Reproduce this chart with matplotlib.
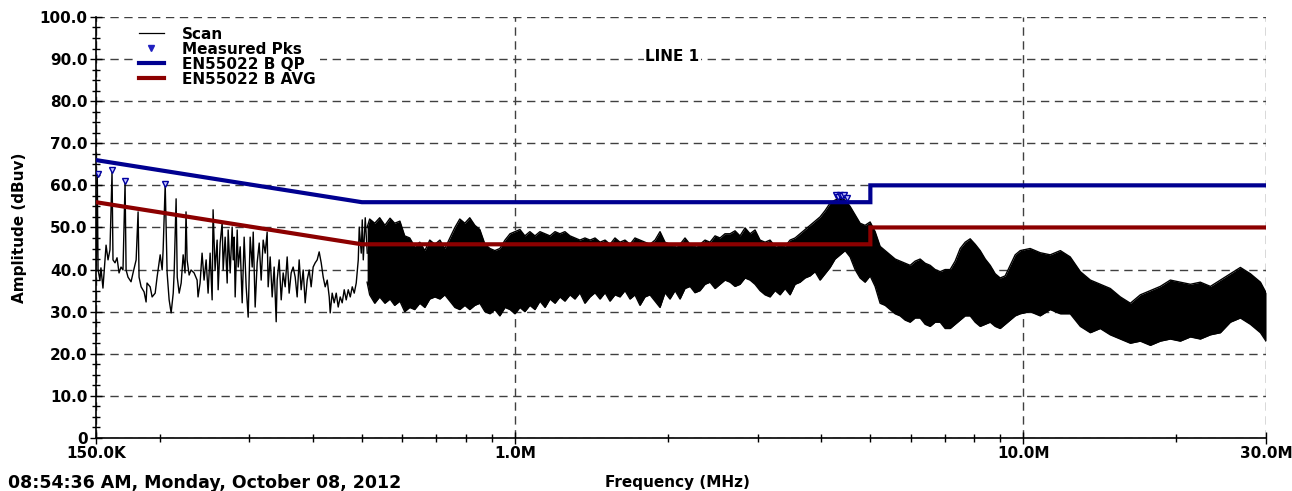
import matplotlib
matplotlib.use('Agg')
import matplotlib.pyplot as plt
from matplotlib.lines import Line2D
from matplotlib.ticker import FixedLocator, MultipleLocator, NullFormatter

plt.rcParams['font.family'] = ['DejaVu Sans']
plt.rcParams['font.weight'] = 'bold'
plt.rcParams['font.size'] = 11

# low band scan, 150 - 512 kHz (kHz, dBuV)
low_scan = [
    (150.2, 41.0), (150.9, 62.0), (151.4, 40.0), (152.7, 37.5), (153.4, 40.4), (154.8, 35.6),
    (157.0, 45.8), (158.4, 42.3), (159.8, 44.7), (161.3, 63.2), (162.0, 42.3), (163.5, 41.6),
    (165.0, 42.8), (166.5, 39.2), (168.0, 40.6), (169.5, 39.9), (171.1, 60.6), (171.9, 39.9),
    (173.4, 38.2), (175.8, 37.1), (177.4, 39.2), (179.9, 42.3), (181.5, 53.7), (182.3, 38.2),
    (184.0, 35.9), (186.5, 34.7), (188.2, 32.3), (189.0, 36.8), (191.7, 35.9), (193.4, 33.5),
    (196.1, 34.4), (197.8, 38.2), (200.6, 43.5), (202.4, 39.9), (203.3, 44.7), (205.2, 60.3),
    (207.0, 39.2), (208.9, 32.8), (210.8, 29.7), (212.8, 34.4), (213.7, 39.2), (215.6, 56.8),
    (216.7, 38.2), (218.6, 34.4), (220.6, 36.8), (222.6, 43.5), (224.5, 39.2), (225.5, 53.7),
    (226.6, 42.3), (228.7, 38.7), (230.7, 39.9), (233.9, 39.2), (237.1, 37.5), (238.1, 33.5),
    (240.3, 36.8), (242.5, 43.9), (244.7, 37.5), (247.0, 42.3), (249.2, 34.4), (251.5, 43.9),
    (253.8, 32.8), (254.9, 54.2), (257.2, 39.9), (259.6, 47.0), (260.8, 35.2), (263.2, 46.3),
    (265.6, 51.1), (266.8, 39.9), (269.2, 47.7), (271.7, 36.8), (272.9, 49.4), (275.4, 39.2),
    (277.9, 50.1), (279.2, 42.3), (280.5, 47.7), (281.7, 33.5), (284.3, 49.4), (285.6, 40.6),
    (288.2, 45.4), (290.8, 32.1), (293.4, 47.7), (296.1, 35.9), (298.8, 28.7), (301.5, 47.7),
    (304.3, 40.6), (305.7, 48.9), (308.4, 31.1), (311.2, 41.6), (314.1, 46.3), (316.9, 37.5),
    (319.8, 47.0), (322.7, 43.9), (325.6, 48.9), (327.1, 35.9), (330.1, 43.0), (333.1, 33.5),
    (336.1, 40.6), (339.2, 27.6), (340.7, 37.5), (343.8, 42.3), (347.0, 32.8), (350.1, 39.2),
    (353.3, 35.9), (356.5, 43.0), (359.7, 34.4), (363.0, 39.2), (366.3, 40.6), (369.7, 38.2),
    (373.0, 33.5), (376.4, 42.3), (379.8, 35.2), (383.3, 39.9), (386.8, 32.1), (390.3, 37.5),
    (393.9, 39.9), (397.4, 35.9), (401.0, 40.6), (404.7, 41.6), (408.4, 42.3), (412.1, 44.2),
    (415.9, 41.6), (419.7, 38.2), (423.5, 35.9), (427.4, 37.5), (431.3, 33.5), (433.2, 29.7),
    (437.1, 34.4), (441.1, 32.1), (445.2, 34.4), (449.2, 31.1), (453.3, 33.5), (457.4, 32.1),
    (461.6, 35.2), (465.8, 32.8), (470.1, 35.2), (474.4, 33.5), (478.7, 35.9), (483.0, 34.4),
    (487.4, 36.8), (491.9, 42.3), (494.1, 50.1), (498.6, 43.9), (500.9, 51.8), (503.2, 42.3),
    (507.7, 52.3), (512.3, 43.9),
]

# dense part of the scan, 0.5 - 30 MHz: (MHz, top of trace, bottom of trace)
band = [
    (0.512, 50.0, 37.0), (0.518, 52.0, 34.0), (0.530, 51.0, 32.0), (0.542, 52.3, 33.5),
    (0.555, 50.5, 32.0), (0.568, 52.2, 33.0), (0.580, 51.0, 31.5), (0.594, 51.5, 32.5),
    (0.607, 48.0, 30.0), (0.621, 47.5, 31.0), (0.635, 45.5, 30.5), (0.650, 46.5, 32.0),
    (0.665, 44.5, 31.0), (0.680, 47.0, 33.0), (0.696, 46.0, 33.5), (0.712, 47.0, 33.0),
    (0.728, 45.0, 34.0), (0.745, 47.5, 32.5), (0.762, 50.0, 31.0), (0.779, 52.0, 30.5),
    (0.797, 51.0, 31.5), (0.815, 52.3, 30.5), (0.834, 50.5, 31.5), (0.853, 49.5, 32.0),
    (0.873, 46.0, 30.0), (0.893, 45.0, 29.5), (0.913, 44.5, 30.5), (0.934, 45.0, 29.0),
    (0.956, 47.0, 31.0), (0.978, 48.5, 30.5), (1.000, 49.0, 29.5), (1.023, 49.5, 31.0),
    (1.046, 48.0, 30.0), (1.070, 49.0, 31.5), (1.095, 48.0, 30.5), (1.120, 49.0, 32.5),
    (1.146, 48.5, 31.0), (1.172, 48.0, 33.0), (1.199, 49.0, 32.0), (1.226, 48.5, 33.5),
    (1.254, 49.0, 32.5), (1.283, 48.0, 34.0), (1.312, 47.5, 33.0), (1.342, 47.0, 34.5),
    (1.373, 47.5, 32.0), (1.405, 47.0, 33.5), (1.437, 47.5, 34.5), (1.470, 46.5, 33.0),
    (1.504, 47.0, 34.5), (1.538, 46.0, 32.5), (1.573, 47.5, 34.0), (1.609, 46.5, 33.5),
    (1.646, 47.0, 35.0), (1.684, 46.0, 33.0), (1.722, 47.5, 34.0), (1.762, 47.0, 31.5),
    (1.802, 46.5, 33.5), (1.843, 46.0, 34.0), (1.886, 47.0, 32.5), (1.929, 49.0, 31.0),
    (1.973, 46.5, 34.5), (2.018, 46.0, 33.0), (2.065, 45.5, 35.0), (2.112, 46.0, 33.0),
    (2.160, 47.5, 35.5), (2.210, 46.0, 36.0), (2.260, 45.5, 34.5), (2.312, 46.0, 35.0),
    (2.365, 47.0, 36.5), (2.419, 46.5, 37.0), (2.475, 48.0, 35.5), (2.531, 47.5, 36.5),
    (2.589, 48.5, 37.5), (2.649, 48.5, 37.0), (2.709, 49.2, 36.0), (2.771, 48.0, 36.5),
    (2.835, 49.9, 38.0), (2.900, 48.5, 37.5), (2.966, 49.4, 36.5), (3.034, 47.0, 35.0),
    (3.104, 46.5, 34.0), (3.175, 47.0, 33.5), (3.248, 45.5, 35.0), (3.322, 46.0, 34.0),
    (3.398, 45.5, 35.5), (3.476, 47.0, 34.0), (3.556, 47.5, 36.5), (3.637, 48.5, 37.0),
    (3.720, 49.5, 38.0), (3.806, 50.5, 38.5), (3.893, 51.5, 39.5), (3.982, 52.5, 37.5),
    (4.073, 54.0, 39.0), (4.167, 55.8, 40.5), (4.262, 56.5, 42.5), (4.360, 57.0, 43.5),
    (4.460, 56.5, 44.5), (4.562, 55.0, 43.0), (4.666, 53.0, 40.0), (4.773, 51.0, 38.0),
    (4.882, 50.5, 37.0), (4.995, 51.3, 38.5), (5.109, 49.0, 36.0), (5.226, 45.5, 32.0),
    (5.346, 44.5, 31.5), (5.469, 43.5, 30.5), (5.594, 42.5, 29.5), (5.722, 42.0, 29.0),
    (5.853, 41.5, 28.0), (5.987, 41.0, 27.5), (6.124, 42.0, 28.5), (6.265, 42.5, 28.5),
    (6.408, 41.5, 27.0), (6.555, 41.0, 26.5), (6.705, 40.0, 27.5), (6.859, 39.5, 27.5),
    (7.016, 40.0, 26.0), (7.177, 40.0, 26.0), (7.341, 42.0, 27.0), (7.510, 45.0, 28.0),
    (7.682, 46.5, 29.0), (7.858, 47.3, 29.0), (8.038, 46.0, 27.5), (8.222, 44.5, 26.5),
    (8.411, 42.5, 27.0), (8.603, 41.0, 27.5), (8.800, 39.0, 26.5), (9.002, 38.0, 26.0),
    (9.208, 38.5, 27.0), (9.419, 41.0, 28.0), (9.635, 43.5, 29.0), (9.856, 44.5, 29.5),
    (10.31, 45.0, 30.0), (10.79, 44.0, 29.0), (11.29, 43.5, 30.5), (11.82, 44.5, 29.5),
    (12.36, 43.0, 29.5), (12.94, 39.5, 26.5), (13.54, 37.5, 25.0), (14.16, 36.5, 26.0),
    (14.82, 35.5, 24.5), (15.51, 33.5, 23.5), (16.23, 32.0, 22.5), (16.98, 34.0, 23.0),
    (17.77, 35.0, 22.0), (18.59, 36.0, 23.0), (19.45, 37.5, 23.5), (20.35, 37.0, 23.0),
    (21.30, 36.5, 24.0), (22.28, 37.0, 23.5), (23.32, 36.0, 24.5), (24.40, 37.5, 25.0),
    (25.53, 39.0, 27.5), (26.71, 40.5, 28.5), (27.95, 39.0, 27.0), (29.25, 37.0, 25.0),
    (30.0, 34.5, 23.0),
]

# measured peaks (MHz, dBuV)
pk_mhz = [0.1514, 0.1613, 0.1711, 0.2052, 4.28, 4.32, 4.36, 4.40, 4.44, 4.50]
pk_db = [62.8, 63.6, 61.0, 60.4, 57.6, 57.2, 57.8, 57.4, 57.6, 57.1]

# EN55022 class B limits
lim_mhz = [0.15, 0.5, 5.0, 5.0, 30.0]
qp_db = [66, 56, 56, 60, 60]
avg_db = [56, 46, 46, 50, 50]

x_ticks = [0.15, 1.0, 10.0, 30.0]
x_labels = ['150.0K', '1.0M', '10.0M', '30.0M']
y_ticks = [0, 10, 20, 30, 40, 50, 60, 70, 80, 90, 100]
y_labels = ['0'] + ['%.1f' % v for v in y_ticks[1:]]

navy = '#000090'
darkred = '#8c0000'

fig = plt.figure(figsize=(12.92, 4.91), dpi=100)
ax = fig.add_axes([0.0743, 0.108, 0.9056, 0.8575])

scan_f = [k / 1000.0 for k, d in low_scan]
scan_d = [d for k, d in low_scan]
ax.plot(scan_f, scan_d, color='black', lw=1.0, zorder=3)

band_f = [b[0] for b in band]
band_top = [b[1] for b in band]
band_bot = [b[2] for b in band]
ax.fill_between(band_f, band_bot, band_top, color='black', lw=0, zorder=3)
ax.plot(band_f, band_top, color='black', lw=1.0, zorder=3)
ax.plot(band_f, band_bot, color='black', lw=1.0, zorder=3)

ax.plot(lim_mhz, qp_db, color=navy, lw=3, zorder=4, solid_joinstyle='miter')
ax.plot(lim_mhz, avg_db, color=darkred, lw=3, zorder=4, solid_joinstyle='miter')
ax.plot(pk_mhz, pk_db, ls='none', marker='v', ms=5, mfc='#c8c8ff', mec='#0000a0', mew=1, zorder=5)

ax.set_xscale('log')
ax.set_xlim(0.15, 30)
ax.set_ylim(0, 100)
ax.xaxis.set_major_locator(FixedLocator(x_ticks))
ax.set_xticklabels(x_labels)
ax.xaxis.set_minor_locator(FixedLocator([0.2, 0.3, 0.4, 0.5, 0.6, 0.7, 0.8, 0.9,
                                         2, 3, 4, 5, 6, 7, 8, 9, 20]))
ax.xaxis.set_minor_formatter(NullFormatter())
ax.set_yticks(y_ticks)
ax.set_yticklabels(y_labels)
ax.yaxis.set_minor_locator(MultipleLocator(2.5))

ax.tick_params(which='major', direction='inout', length=8, width=1, pad=2, labelsize=11)
ax.tick_params(which='minor', direction='inout', length=6, width=1)
for s in ['top', 'right']:
    ax.spines[s].set_visible(False)
for s in ['left', 'bottom']:
    ax.spines[s].set_linewidth(1.2)

ax.grid(True, which='major', color='#404040', ls=(0, (6, 4)), lw=1)
ax.set_axisbelow(True)

ax.text(2.04, 90.5, 'LINE 1', ha='center', va='center', fontsize=11, fontweight='bold',
        bbox=dict(facecolor='white', edgecolor='none', pad=1), zorder=6)

handles = [
    Line2D([], [], color='black', lw=0.9),
    Line2D([], [], ls='none', marker='v', ms=4, color='#2020c0'),
    Line2D([], [], color=navy, lw=3),
    Line2D([], [], color=darkred, lw=3),
]
labels = ['Scan', 'Measured Pks', 'EN55022 B QP', 'EN55022 B AVG']
leg = ax.legend(handles, labels, loc='upper left', bbox_to_anchor=(0.033, 0.988),
                frameon=True, fancybox=False, edgecolor='none', facecolor='white',
                framealpha=1, handlelength=1.6, handletextpad=1.2, labelspacing=0.0,
                borderpad=0.3, borderaxespad=0, prop={'weight': 'bold', 'size': 11})
leg.set_zorder(6)

ax.set_ylabel('Amplitude (dBuv)', fontsize=11, fontweight='bold', va='center')
ax.yaxis.set_label_coords(-0.065, 0.5)
ax.set_xlabel('Frequency (MHz)', fontsize=11, fontweight='bold', va='center')
ax.xaxis.set_label_coords(0.497, -0.105)

fig.text(0.006, 0.016, '08:54:36 AM, Monday, October 08, 2012', ha='left', va='center',
         fontsize=12.5, fontweight='bold')

fig.savefig('out.png', dpi=100)
plt.close()
